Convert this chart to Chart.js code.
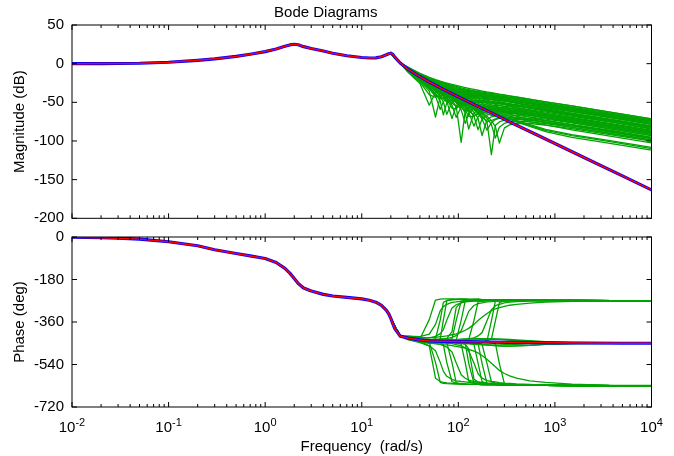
<!DOCTYPE html>
<html><head><meta charset="utf-8">
<script src="https://cdn.jsdelivr.net/npm/chart.js@4.4.0/dist/chart.umd.min.js"></script>
<style>
html,body{margin:0;padding:0;background:#fff;}
#wrap{position:relative;width:674px;height:456px;overflow:hidden;}
canvas{position:absolute;left:0;}
#magCanvas{top:0;} #phaseCanvas{top:228px;}
</style></head><body>
<div id="wrap"><canvas id="magCanvas" width="674" height="228"></canvas><canvas id="phaseCanvas" width="674" height="228"></canvas></div>
<script>
// ---------- nominal model (red and blue) ----------
const freqNom = [0.01,0.02,0.03,0.05,0.1,0.2,0.3,0.5,0.7,1,1.3,1.6,1.8,2,2.2,2.5,3,4,5,7,10,12,14,16,18,19,20,21,22,25,30,40,50,70,100,150,220,330,550,1000,2000,5000,10000];
const magNom = [0,0.1,0.2,0.5,1.8,4.3,6.2,9.4,12.2,15.6,19.0,22.5,24.2,25.1,24.5,22.0,19.6,16.3,13.5,10.2,8.0,7.3,7.5,9.0,11.5,12.8,13.5,12.0,8.5,0.9,-7.0,-16.9,-23.7,-33.2,-42.9,-53.7,-63.7,-74.6,-87.7,-103.3,-121.3,-145.1,-163.3];
const phaseNom = [-1,-3,-5,-9,-20,-37,-54,-70,-80,-91,-108,-133,-153,-176,-197,-216,-229,-243,-250,-256,-262,-268,-276,-290,-311,-325,-345,-368,-388,-420,-428,-436,-440,-442,-443,-444,-445,-446,-447,-448,-449,-450,-450];

// ---------- perturbed models (green) ----------
const freqGreen = [20,25,30,40,50,58,65,70,76,86,95,107,118,128,145,160,176,198,220,242,266,300,340,400,550,800,1500,4000,10000];

const magFan00 = [13.5,0.9,-4.3,-12.6,-17.7,-20.6,-22.6,-23.8,-25.1,-26.9,-28.2,-29.8,-31.0,-31.9,-33.3,-34.4,-35.4,-36.6,-37.5,-38.4,-39.4,-40.4,-41.6,-43.0,-46.0,-49.3,-54.7,-63.2,-71.3];
const magFan10 = [13.5,0.9,-4.6,-13.0,-18.3,-21.3,-23.4,-24.7,-26.1,-28.0,-29.4,-31.2,-32.5,-33.5,-35.1,-36.3,-37.4,-38.7,-39.7,-40.7,-41.8,-42.9,-44.2,-45.7,-48.9,-52.3,-57.8,-66.3,-74.4];
const magFan20 = [13.5,0.9,-4.8,-13.4,-18.9,-22.0,-24.2,-25.6,-27.1,-29.2,-30.7,-32.6,-34.0,-35.1,-36.8,-38.2,-39.4,-40.9,-42.0,-43.1,-44.3,-45.5,-46.9,-48.5,-51.8,-55.3,-60.9,-69.4,-77.5];
const magFan30 = [13.5,0.9,-5.1,-13.8,-19.4,-22.7,-25.1,-26.5,-28.1,-30.3,-31.9,-34.0,-35.5,-36.7,-38.6,-40.0,-41.4,-43.0,-44.2,-45.4,-46.7,-48.0,-49.5,-51.2,-54.7,-58.3,-63.9,-72.5,-80.6];
const magFan40 = [13.5,0.9,-5.3,-14.3,-20.0,-23.4,-25.9,-27.4,-29.0,-31.4,-33.2,-35.3,-37.0,-38.4,-40.4,-41.9,-43.4,-45.1,-46.5,-47.8,-49.1,-50.6,-52.1,-54.0,-57.6,-61.3,-67.0,-75.6,-83.7];
const magFan50 = [13.5,0.9,-5.6,-14.7,-20.6,-24.1,-26.7,-28.3,-30.0,-32.5,-34.4,-36.7,-38.6,-40.0,-42.1,-43.8,-45.4,-47.2,-48.7,-50.1,-51.5,-53.1,-54.8,-56.7,-60.5,-64.3,-70.1,-78.7,-86.8];
const magFan60 = [13.5,0.9,-5.9,-15.1,-21.2,-24.8,-27.5,-29.2,-31.0,-33.7,-35.7,-38.1,-40.1,-41.6,-43.9,-45.7,-47.4,-49.4,-51.0,-52.5,-54.0,-55.6,-57.4,-59.5,-63.3,-67.3,-73.2,-81.8,-89.9];
const magFan70 = [13.5,0.9,-6.1,-15.5,-21.7,-25.6,-28.3,-30.1,-32.0,-34.8,-36.9,-39.5,-41.6,-43.2,-45.7,-47.6,-49.4,-51.5,-53.2,-54.8,-56.4,-58.2,-60.0,-62.2,-66.2,-70.3,-76.3,-84.9,-93.1];
const magFan80 = [13.5,0.9,-6.4,-15.9,-22.3,-26.3,-29.2,-31.0,-33.0,-35.9,-38.2,-40.9,-43.1,-44.8,-47.4,-49.5,-51.3,-53.6,-55.5,-57.2,-58.8,-60.7,-62.7,-64.9,-69.1,-73.3,-79.3,-88.0,-96.2];
const magFan90 = [13.5,0.9,-6.6,-16.3,-22.9,-27.0,-30.0,-31.8,-34.0,-37.0,-39.4,-42.3,-44.6,-46.4,-49.2,-51.3,-53.3,-55.7,-57.7,-59.5,-61.2,-63.2,-65.3,-67.7,-72.0,-76.3,-82.4,-91.1,-99.3];
const magFan100 = [13.5,0.9,-6.9,-16.8,-23.5,-27.7,-30.8,-32.7,-35.0,-38.2,-40.7,-43.7,-46.1,-48.1,-51.0,-53.2,-55.3,-57.9,-60.0,-61.9,-63.7,-65.8,-67.9,-70.4,-74.9,-79.3,-85.5,-94.3,-102.4];
const magLow1 = [13.5,0.9,-7.0,-16.8,-23.6,-27.8,-31.0,-33.0,-35.2,-38.5,-41.1,-44.1,-46.6,-48.7,-51.8,-54.2,-56.5,-59.3,-61.6,-63.7,-65.8,-68.2,-70.7,-73.7,-79.0,-85.0,-91.8,-100.1,-108.2];
const magLow2 = [13.5,0.9,-7.0,-16.8,-23.6,-27.9,-31.0,-33.0,-35.3,-38.6,-41.1,-44.2,-46.7,-48.9,-52.0,-54.4,-56.7,-59.5,-61.9,-64.1,-66.2,-68.7,-71.3,-74.4,-80.0,-86.3,-93.2,-101.6,-109.8];
const magLow3 = [13.5,0.9,-7.0,-16.9,-23.6,-27.9,-31.1,-33.0,-35.3,-38.6,-41.2,-44.3,-46.9,-49.0,-52.2,-54.6,-57.0,-59.8,-62.3,-64.5,-66.7,-69.3,-72.0,-75.3,-81.2,-88.0,-95.2,-103.7,-111.9];
const magNotch1 = [13.5,0.9,-9.7,-22.5,-35.5,-69.0,-43.0,-40.0,-38.4,-37.3,-37.0,-37.1,-37.4,-37.8,-38.4,-39.0,-39.6,-40.5,-41.2,-41.9,-42.7,-43.6,-44.6,-46.0,-48.7,-52.0,-57.3,-65.8,-73.8];
const magNotch2 = [13.5,0.9,-8.8,-20.3,-29.9,-38.1,-48.4,-66.2,-50.4,-44.8,-43.0,-42.2,-42.0,-42.1,-42.5,-42.9,-43.4,-44.1,-44.7,-45.4,-46.1,-47.0,-48.0,-49.3,-52.0,-55.3,-60.6,-69.0,-77.1];
const magNotch3 = [13.5,0.9,-8.1,-19.0,-27.3,-33.3,-38.6,-42.6,-48.7,-70.9,-54.6,-49.9,-48.4,-47.8,-47.5,-47.6,-47.8,-48.3,-48.8,-49.4,-50.0,-50.8,-51.8,-53.0,-55.7,-58.9,-64.2,-72.6,-80.7];
const magNotch4 = [13.5,0.9,-7.7,-18.2,-25.8,-31.0,-35.2,-38.1,-41.6,-47.9,-55.0,-101.7,-60.6,-56.8,-54.4,-53.6,-53.3,-53.3,-53.5,-53.9,-54.4,-55.1,-55.9,-57.0,-59.6,-62.7,-68.0,-76.4,-84.5];
const magNotch5 = [13.5,0.9,-7.5,-17.8,-25.1,-30.0,-33.8,-36.3,-39.3,-44.1,-48.5,-55.1,-63.8,-84.5,-63.8,-60.4,-58.9,-58.1,-57.9,-58.0,-58.3,-58.7,-59.5,-60.4,-62.9,-65.9,-71.1,-79.5,-87.6];
const magNotch6 = [13.5,0.9,-7.3,-17.4,-24.4,-29.0,-32.5,-34.7,-37.3,-41.3,-44.5,-48.7,-52.5,-56.0,-62.7,-70.6,-92.9,-72.5,-68.7,-67.2,-66.5,-66.2,-66.4,-66.9,-68.8,-71.6,-76.7,-85.1,-93.1];
const magNotch7 = [13.5,0.9,-7.2,-17.2,-24.2,-28.6,-32.0,-34.1,-36.6,-40.3,-43.3,-47.0,-50.3,-53.1,-57.7,-61.9,-66.8,-75.4,-117.7,-79.8,-75.4,-73.1,-72.3,-72.0,-73.3,-75.8,-80.6,-89.0,-97.0];
const magNotch8 = [13.5,0.9,-7.1,-17.1,-24.0,-28.4,-31.7,-33.8,-36.2,-39.8,-42.7,-46.2,-49.2,-51.8,-55.9,-59.3,-62.9,-68.0,-73.7,-81.5,-102.7,-83.1,-79.1,-77.3,-77.4,-79.4,-84.0,-92.3,-100.3];
const magNotch9 = [13.5,0.9,-10.9,-25.8,-53.7,-37.2,-34.4,-33.6,-33.2,-33.0,-33.2,-33.6,-34.1,-34.6,-35.4,-36.1,-36.8,-37.7,-38.4,-39.2,-40.0,-40.9,-42.0,-43.3,-46.1,-49.3,-54.7,-63.2,-71.3];
const magNotch10 = [13.5,0.9,-9.1,-21.0,-31.5,-41.8,-59.2,-49.1,-44.2,-41.4,-40.4,-40.0,-40.1,-40.3,-40.8,-41.3,-41.9,-42.6,-43.3,-44.0,-44.8,-45.7,-46.7,-48.0,-50.7,-54.0,-59.3,-67.7,-75.8];
const magNotch11 = [13.5,0.9,-8.5,-19.7,-28.6,-35.6,-42.6,-49.6,-65.5,-49.9,-46.5,-44.9,-44.3,-44.2,-44.4,-44.7,-45.1,-45.8,-46.3,-47.0,-47.7,-48.5,-49.5,-50.8,-53.5,-56.7,-62.0,-70.5,-78.5];
const magNotch12 = [13.5,0.9,-7.9,-18.6,-26.5,-32.1,-36.7,-40.0,-44.4,-53.7,-69.5,-56.1,-52.6,-51.3,-50.3,-50.1,-50.2,-50.5,-50.9,-51.4,-52.0,-52.7,-53.7,-54.8,-57.4,-60.6,-65.9,-74.3,-82.4];
const magNotch13 = [13.5,0.9,-7.6,-18.0,-25.4,-30.4,-34.3,-37.0,-40.2,-45.5,-50.6,-59.7,-77.3,-64.5,-58.7,-56.9,-56.1,-55.8,-55.8,-56.1,-56.5,-57.1,-57.8,-58.9,-61.4,-64.5,-69.7,-78.1,-86.2];
const magNotch14 = [13.5,0.9,-7.4,-17.6,-24.8,-29.5,-33.2,-35.5,-38.3,-42.7,-46.4,-51.5,-56.8,-62.7,-80.8,-68.7,-64.4,-62.3,-61.4,-61.2,-61.2,-61.5,-62.0,-62.9,-65.2,-68.1,-73.3,-81.7,-89.8];
const magNotch15 = [13.5,0.9,-7.3,-17.5,-24.6,-29.2,-32.8,-35.0,-37.7,-41.9,-45.3,-49.8,-54.1,-58.4,-67.7,-85.4,-71.5,-66.5,-64.7,-64.0,-63.8,-63.8,-64.2,-64.9,-67.0,-69.9,-75.0,-83.4,-91.5];
const magNotch16 = [13.5,0.9,-7.2,-17.3,-24.3,-28.8,-32.2,-34.4,-36.9,-40.7,-43.8,-47.7,-51.1,-54.2,-59.5,-64.6,-71.5,-86.0,-76.3,-72.3,-70.6,-69.6,-69.3,-69.5,-71.2,-73.8,-78.8,-87.1,-95.2];
const magNotch17 = [13.5,0.9,-7.1,-17.1,-24.1,-28.5,-31.8,-34.0,-36.4,-40.0,-43.0,-46.6,-49.7,-52.4,-56.7,-60.4,-64.4,-70.6,-78.9,-96.2,-82.3,-77.2,-75.3,-74.5,-75.3,-77.6,-82.3,-90.6,-98.7];
const magNotch18 = [13.5,0.9,-8.0,-18.8,-26.9,-32.7,-37.6,-41.3,-46.1,-57.5,-58.5,-52.2,-50.2,-49.3,-48.8,-48.7,-48.9,-49.3,-49.8,-50.3,-50.9,-51.7,-52.6,-53.8,-56.4,-59.6,-64.9,-73.3,-81.4];
const magNotch19 = [13.5,0.9,-10.2,-23.8,-40.0,-43.5,-38.2,-36.6,-35.7,-35.2,-35.1,-35.4,-35.8,-36.2,-36.9,-37.6,-38.2,-39.1,-39.8,-40.6,-41.4,-42.3,-43.4,-44.7,-47.5,-50.7,-56.1,-64.5,-72.6];
const magNotch20 = [13.5,0.9,-7.4,-17.7,-25.0,-29.8,-33.5,-35.9,-38.8,-43.4,-47.4,-53.3,-59.6,-68.2,-68.3,-63.3,-61.0,-59.8,-59.3,-59.3,-59.5,-59.9,-60.5,-61.5,-63.8,-66.9,-72.1,-80.4,-88.5];
const magDip1 = [13.5,0.9,-9.4,-21.8,-32.9,-41.8,-42.3,-40.5,-39.2,-38.1,-37.8,-37.8,-38.1,-38.5,-39.1,-39.7,-40.3,-41.1,-41.8,-42.5,-43.3,-44.2,-45.2,-46.5,-49.3,-52.6,-57.9,-66.3,-74.4];
const magDip2 = [13.5,0.9,-9.0,-20.9,-30.9,-39.3,-45.2,-44.6,-42.7,-40.9,-40.1,-39.9,-40.1,-40.3,-40.8,-41.3,-41.9,-42.6,-43.3,-44.0,-44.8,-45.7,-46.7,-48.0,-50.7,-54.0,-59.3,-67.7,-75.8];
const magDip3 = [13.5,0.9,-8.4,-19.6,-28.4,-35.0,-41.1,-45.6,-49.5,-47.8,-45.7,-44.5,-44.1,-44.1,-44.3,-44.7,-45.1,-45.7,-46.3,-46.9,-47.6,-48.5,-49.5,-50.8,-53.5,-56.7,-62.0,-70.5,-78.5];
const magDip4 = [13.5,0.9,-7.9,-18.6,-26.4,-31.9,-36.4,-39.6,-43.6,-50.8,-55.5,-53.8,-51.8,-50.8,-50.1,-50.0,-50.1,-50.5,-50.9,-51.4,-52.0,-52.7,-53.7,-54.8,-57.4,-60.6,-65.9,-74.3,-82.4];
const magDip5 = [13.5,0.9,-7.6,-17.9,-25.4,-30.3,-34.2,-36.8,-40.0,-45.1,-49.7,-56.6,-61.3,-60.6,-57.7,-56.5,-55.9,-55.7,-55.7,-56.1,-56.5,-57.1,-57.8,-58.9,-61.4,-64.5,-69.7,-78.1,-86.2];
const magDip6 = [13.5,0.9,-7.4,-17.6,-24.8,-29.5,-33.1,-35.4,-38.2,-42.5,-46.1,-51.1,-55.8,-60.5,-66.8,-65.6,-63.4,-61.9,-61.2,-61.0,-61.1,-61.5,-62.0,-62.9,-65.2,-68.1,-73.3,-81.7,-89.8];
const magDip7 = [13.5,0.9,-7.2,-17.3,-24.3,-28.8,-32.2,-34.4,-36.9,-40.6,-43.7,-47.6,-51.0,-54.0,-59.1,-63.7,-69.1,-75.0,-73.5,-71.4,-70.1,-69.3,-69.2,-69.5,-71.1,-73.8,-78.8,-87.1,-95.2];
const magSlow1 = [13.5,0.9,-7.2,-17.3,-24.4,-28.9,-32.3,-34.5,-37.0,-40.8,-43.8,-47.5,-50.5,-53.0,-56.4,-58.5,-59.9,-60.9,-61.3,-61.8,-62.2,-62.7,-63.5,-64.4,-66.8,-69.8,-75.0,-83.4,-91.5];
const magSlow2 = [13.5,0.9,-7.1,-17.1,-24.0,-28.5,-31.8,-33.9,-36.3,-39.9,-42.7,-46.3,-49.2,-51.7,-55.5,-58.6,-61.4,-64.6,-66.8,-68.2,-69.0,-69.6,-70.2,-70.9,-72.8,-75.6,-80.6,-88.9,-97.0];

const phFlat  = [-345,-420,-428,-436,-440,-441,-441,-442,-442,-442,-443,-443,-443,-444,-444,-444,-445,-445,-445,-445,-446,-446,-446,-447,-447,-448,-449,-450,-450];
const phUpA   = [-345,-420,-428,-436,-439,-439,-438,-438,-437,-436,-435,-434,-433,-432,-431,-431,-431,-432,-432,-433,-434,-435,-437,-439,-442,-445,-448,-450,-450];
const phDnA   = [-345,-420,-428,-436,-441,-443,-444,-445,-446,-448,-449,-451,-452,-453,-455,-456,-457,-457,-457,-457,-457,-456,-456,-455,-453,-451,-450,-450,-450];
const phUpB   = [-345,-420,-428,-436,-440,-441,-441,-441,-441,-440,-440,-439,-439,-438,-437,-436,-435,-434,-433,-433,-433,-433,-434,-436,-439,-443,-447,-449,-450];
const phDnB   = [-345,-420,-428,-436,-440,-441,-442,-443,-443,-444,-445,-446,-447,-449,-451,-453,-455,-457,-459,-460,-461,-462,-462,-461,-459,-455,-452,-450,-450];
const phNotch1 = [-345,-420,-428,-437,-445,-531,-616,-620,-621,-622,-623,-623,-623,-624,-624,-624,-625,-625,-625,-625,-626,-626,-626,-627,-627,-628,-629,-630,-630];
const phNotch2 = [-345,-420,-428,-436,-439,-440,-433,-352,-269,-264,-263,-263,-263,-264,-264,-264,-265,-265,-265,-265,-266,-266,-266,-267,-267,-268,-269,-270,-270];
const phNotch3 = [-345,-420,-428,-436,-440,-441,-442,-443,-447,-532,-617,-623,-623,-624,-624,-624,-625,-625,-625,-625,-626,-626,-626,-627,-627,-628,-629,-630,-630];
const phNotch4 = [-345,-420,-428,-436,-440,-441,-441,-442,-441,-439,-438,-353,-269,-266,-264,-264,-265,-265,-265,-265,-266,-266,-266,-267,-267,-268,-269,-270,-270];
const phNotch5 = [-345,-420,-428,-436,-440,-441,-441,-442,-442,-442,-444,-446,-450,-534,-619,-623,-625,-625,-625,-625,-626,-626,-626,-627,-627,-628,-629,-630,-630];
const phNotch6 = [-345,-420,-428,-436,-440,-441,-441,-442,-442,-442,-443,-443,-443,-444,-447,-450,-535,-620,-624,-625,-626,-626,-626,-627,-627,-628,-629,-630,-630];
const phNotch7 = [-345,-420,-428,-436,-440,-441,-441,-442,-442,-442,-443,-443,-443,-444,-444,-444,-442,-440,-355,-271,-268,-266,-266,-267,-267,-268,-269,-270,-270];
const phNotch8 = [-345,-420,-428,-436,-440,-441,-441,-442,-442,-442,-443,-443,-443,-444,-444,-444,-445,-445,-448,-451,-536,-621,-625,-627,-627,-628,-629,-630,-630];
const phNotch9 = [-345,-420,-427,-432,-350,-267,-263,-262,-262,-262,-263,-263,-263,-264,-264,-264,-265,-265,-265,-265,-266,-266,-266,-267,-267,-268,-269,-270,-270];
const phNotch10 = [-345,-420,-428,-435,-436,-431,-351,-277,-269,-266,-265,-263,-263,-264,-264,-264,-265,-265,-265,-265,-266,-266,-266,-267,-267,-268,-269,-270,-270];
const phNotch11 = [-345,-420,-428,-436,-440,-442,-448,-456,-532,-613,-619,-621,-623,-624,-624,-624,-625,-625,-625,-625,-626,-626,-626,-627,-627,-628,-629,-630,-630];
const phNotch12 = [-345,-420,-428,-436,-440,-441,-440,-440,-437,-431,-353,-272,-268,-267,-266,-264,-265,-265,-265,-265,-266,-266,-266,-267,-267,-268,-269,-270,-270];
const phNotch13 = [-345,-420,-428,-436,-440,-441,-441,-442,-442,-443,-448,-454,-533,-610,-619,-621,-623,-625,-625,-625,-626,-626,-626,-627,-627,-628,-629,-630,-630];
const phNotch14 = [-345,-420,-428,-436,-440,-441,-441,-442,-442,-442,-443,-443,-437,-435,-354,-275,-271,-268,-267,-266,-266,-266,-266,-267,-267,-268,-269,-270,-270];
const phNotch15 = [-345,-420,-428,-436,-440,-441,-441,-442,-442,-442,-443,-443,-443,-449,-455,-534,-613,-620,-622,-623,-626,-626,-626,-627,-627,-628,-629,-630,-630];
const phNotch16 = [-345,-420,-428,-436,-440,-441,-441,-442,-442,-442,-443,-443,-443,-444,-444,-449,-455,-535,-614,-619,-623,-624,-626,-627,-627,-628,-629,-630,-630];
const phNotch17 = [-345,-420,-428,-436,-440,-441,-441,-442,-442,-442,-443,-443,-443,-444,-444,-444,-445,-439,-433,-355,-278,-271,-269,-269,-267,-268,-269,-270,-270];
const phNotch18 = [-345,-420,-426,-434,-436,-436,-434,-433,-429,-401,-299,-276,-271,-270,-268,-267,-265,-265,-265,-265,-266,-266,-266,-267,-267,-268,-269,-270,-270];
const phNotch19 = [-345,-420,-431,-442,-461,-598,-612,-616,-618,-620,-621,-623,-623,-624,-624,-624,-625,-625,-625,-625,-626,-626,-626,-627,-627,-628,-629,-630,-630];
const phNotch20 = [-345,-420,-428,-436,-440,-441,-442,-443,-443,-445,-448,-450,-455,-473,-601,-614,-619,-621,-622,-623,-626,-626,-626,-627,-627,-628,-629,-630,-630];
const phDip1 = [-345,-420,-420,-422,-411,-370,-312,-295,-285,-277,-275,-272,-271,-271,-270,-269,-269,-269,-268,-268,-268,-268,-267,-268,-268,-269,-269,-270,-270];
const phDip2 = [-345,-420,-435,-447,-461,-482,-531,-569,-590,-603,-609,-612,-614,-616,-618,-618,-620,-621,-621,-622,-623,-624,-624,-626,-626,-628,-629,-630,-630];
const phDip3 = [-345,-420,-423,-428,-427,-421,-409,-392,-352,-301,-287,-279,-275,-274,-272,-271,-271,-270,-270,-269,-270,-269,-268,-268,-268,-269,-269,-270,-270];
const phDip4 = [-345,-420,-432,-442,-448,-452,-455,-460,-466,-487,-533,-583,-598,-606,-611,-614,-616,-618,-619,-620,-621,-622,-623,-625,-626,-628,-629,-630,-630];
const phDip5 = [-345,-420,-425,-432,-434,-434,-432,-432,-430,-425,-418,-397,-353,-315,-290,-282,-279,-275,-274,-272,-272,-271,-271,-271,-269,-269,-269,-270,-270];
const phDip6 = [-345,-420,-430,-439,-445,-446,-447,-449,-450,-452,-456,-461,-469,-483,-534,-579,-598,-608,-612,-614,-617,-619,-620,-622,-624,-627,-629,-630,-630];
const phDip7 = [-345,-420,-426,-434,-437,-438,-437,-437,-437,-436,-436,-434,-433,-432,-427,-419,-405,-355,-308,-291,-285,-279,-276,-274,-272,-271,-270,-270,-270];
const phSlow1 = [-345,-420,-420,-425,-426,-425,-422,-421,-419,-414,-410,-403,-395,-387,-370,-354,-340,-324,-312,-304,-299,-294,-289,-285,-280,-276,-273,-272,-271];
const phSlow2 = [-345,-420,-434,-444,-450,-452,-454,-456,-457,-460,-463,-467,-471,-476,-483,-491,-502,-518,-535,-550,-565,-578,-588,-598,-609,-616,-623,-628,-629];

const greenMagSet = [magFan00,magFan10,magFan20,magFan30,magFan40,magFan50,magFan60,magFan70,magFan80,magFan90,magFan100,
  magLow1,magLow2,magLow3,
  magNotch1,magNotch2,magNotch3,magNotch4,magNotch5,magNotch6,magNotch7,magNotch8,magNotch9,magNotch10,
  magNotch11,magNotch12,magNotch13,magNotch14,magNotch15,magNotch16,magNotch17,magNotch18,magNotch19,magNotch20,
  magDip1,magDip2,magDip3,magDip4,magDip5,magDip6,magDip7,magSlow1,magSlow2];
const greenPhaseSet = [phFlat,phUpA,phFlat,phDnA,phUpB,phFlat,phDnB,phFlat,phUpA,phFlat,phDnB,
  phFlat,phFlat,phFlat,
  phNotch1,phNotch2,phNotch3,phNotch4,phNotch5,phNotch6,phNotch7,phNotch8,phNotch9,phNotch10,
  phNotch11,phNotch12,phNotch13,phNotch14,phNotch15,phNotch16,phNotch17,phNotch18,phNotch19,phNotch20,
  phDip1,phDip2,phDip3,phDip4,phDip5,phDip6,phDip7,phSlow1,phSlow2];

// ---------- axis ticks ----------
const magTicks = [50,0,-50,-100,-150,-200];
const phaseTicks = [0,-180,-360,-540,-720];
const xTickVals = [0.01,0.1,1,10,100,1000,10000];
const xTickBase = '10';
const xTickExp = ['-2','-1','0','1','2','3','4'];
const xMinorFactors = [2,3,4,5,6,7,8,9];

// ---------- rendering ----------
const FAMILY = "'Liberation Sans', Arial, Helvetica, sans-serif";
Chart.defaults.font.family = FAMILY;
Chart.defaults.font.size = 15;
Chart.defaults.color = '#000';
const GREEN = '#00a300';

function series(xs, ys){ return xs.map((x,i)=>({x:x, y:ys[i]})); }
function buildDatasets(nomY, greens){
  const common = {pointRadius:0, fill:false, tension:0, borderJoinStyle:'round'};
  const ds = [];
  ds.push(Object.assign({data:series(freqNom, nomY), borderColor:'#ff0000', borderWidth:1.5, order:0}, common));
  ds.push(Object.assign({data:series(freqNom, nomY), borderColor:'#0000ff', borderWidth:3.2, order:1}, common));
  greens.forEach(g=>ds.push(Object.assign({data:series(freqGreen, g), borderColor:GREEN, borderWidth:1.3, order:2}, common)));
  return ds;
}

const framePlugin = {
  id:'frame',
  afterDraw(chart){
    const ctx = chart.ctx, a = chart.chartArea, xs = chart.scales.x, ys = chart.scales.y;
    const tickVals = chart.canvas.id === 'magCanvas' ? magTicks : phaseTicks;
    ctx.save();
    ctx.strokeStyle = '#000'; ctx.lineWidth = 1;
    ctx.beginPath();
    xTickVals.forEach((v, i)=>{
      const px = xs.getPixelForValue(v);
      ctx.moveTo(px, a.bottom); ctx.lineTo(px, a.bottom-5);
      ctx.moveTo(px, a.top); ctx.lineTo(px, a.top+5);
      if (i < xTickVals.length-1) {
        xMinorFactors.forEach(k=>{
          const pm = xs.getPixelForValue(k*v);
          ctx.moveTo(pm, a.bottom); ctx.lineTo(pm, a.bottom-3);
          ctx.moveTo(pm, a.top); ctx.lineTo(pm, a.top+3);
        });
      }
    });
    tickVals.forEach(v=>{
      const py = ys.getPixelForValue(v);
      ctx.moveTo(a.left, py); ctx.lineTo(a.left+5, py);
      ctx.moveTo(a.right, py); ctx.lineTo(a.right-5, py);
    });
    ctx.stroke();
    ctx.strokeRect(a.left, a.top, a.right-a.left, a.bottom-a.top);
    ctx.restore();
  }
};

const xLabelPlugin = {
  id:'xlabels',
  afterDraw(chart){
    const ctx = chart.ctx, xs = chart.scales.x, a = chart.chartArea;
    const baseY = a.bottom + 25;
    ctx.save();
    ctx.fillStyle = '#000'; ctx.textBaseline = 'alphabetic'; ctx.textAlign = 'left';
    xTickVals.forEach((v,i)=>{
      ctx.font = '15px ' + FAMILY; const wb = ctx.measureText(xTickBase).width;
      ctx.font = '11px ' + FAMILY; const we = ctx.measureText(xTickExp[i]).width;
      const x0 = xs.getPixelForValue(v) - (wb+we)/2;
      ctx.font = '15px ' + FAMILY; ctx.fillText(xTickBase, x0, baseY);
      ctx.font = '11px ' + FAMILY; ctx.fillText(xTickExp[i], x0+wb, baseY-6);
    });
    ctx.restore();
  }
};

function yAxis(min, max, step, title){
  return {
    type:'linear', min:min, max:max,
    ticks:{stepSize:step, padding:8, color:'#000', font:{size:15}},
    grid:{display:false, drawTicks:false}, border:{display:false},
    title:{display:true, text:title, color:'#000', font:{size:15}, padding:{top:11, bottom:0}},
    afterFit(s){ s.width = 72; s.paddingTop = 0; s.paddingBottom = 0; }
  };
}

new Chart(document.getElementById('magCanvas'), {
  type:'line',
  data:{datasets:buildDatasets(magNom, greenMagSet)},
  options:{
    responsive:false, animation:false, devicePixelRatio:1,
    layout:{padding:{left:0, right:22.5, top:0, bottom:9.7}},
    plugins:{legend:{display:false}, tooltip:{enabled:false},
      title:{display:true, text:'Bode Diagrams', color:'#000', font:{size:15, weight:'normal'}, padding:{top:4, bottom:3}}},
    scales:{
      x:{type:'logarithmic', min:0.01, max:10000, display:false},
      y:yAxis(-200, 50, 50, 'Magnitude (dB)')
    }
  },
  plugins:[framePlugin]
});

new Chart(document.getElementById('phaseCanvas'), {
  type:'line',
  data:{datasets:buildDatasets(phaseNom, greenPhaseSet)},
  options:{
    responsive:false, animation:false, devicePixelRatio:1,
    layout:{padding:{left:0, right:22.5, top:9, bottom:0}},
    plugins:{legend:{display:false}, tooltip:{enabled:false}},
    scales:{
      x:{type:'logarithmic', min:0.01, max:10000,
         ticks:{display:false}, grid:{display:false, drawTicks:false}, border:{display:false},
         title:{display:true, text:'Frequency  (rad/s)', color:'#000', font:{size:15}, padding:{top:0, bottom:0}},
         afterFit(s){ s.height = 49; }},
      y:yAxis(-720, 0, 180, 'Phase (deg)')
    }
  },
  plugins:[framePlugin, xLabelPlugin]
});
</script>
</body></html>
